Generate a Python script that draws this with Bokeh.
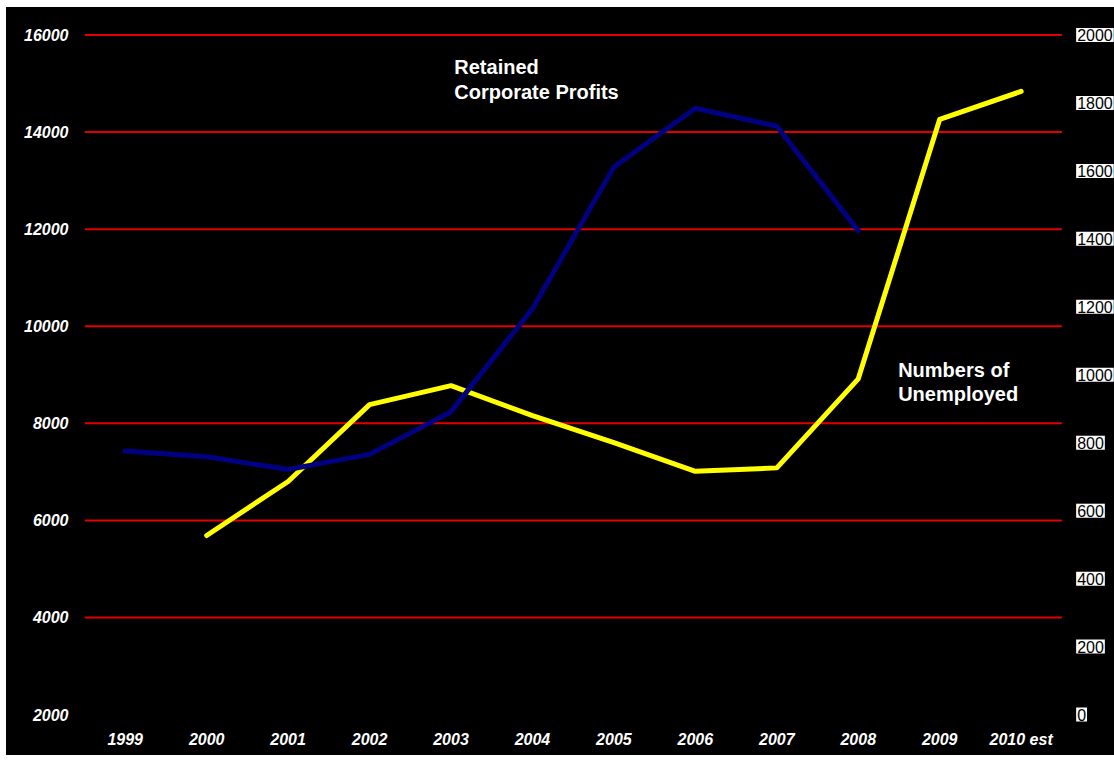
from bokeh.plotting import figure
from bokeh.models import Range1d, FixedTicker, Label
from bokeh.embed import file_html
from bokeh.resources import INLINE

# ---- data ----
years = ["1999", "2000", "2001", "2002", "2003", "2004", "2005", "2006",
         "2007", "2008", "2009", "2010 est"]
profit_years = years[0:10]
profits = [7430, 7310, 7050, 7360, 8240, 10360, 13280, 14490, 14120, 11970]
unemp_years = years[1:12]
unemployed = [527, 686, 912, 968, 880, 800, 716, 726, 988, 1752, 1834]
left_ticks = [2000, 4000, 6000, 8000, 10000, 12000, 14000, 16000]
right_ticks = [0, 200, 400, 600, 800, 1000, 1200, 1400, 1600, 1800, 2000]

FONT = "Liberation Sans"
n = len(years)
idx = {y: i for i, y in enumerate(years)}

# left scale 1774.5..16257.5 ; right scale r <-> left 2000 + 7 r
L0, L1 = 1774.5, 16257.5
p = figure(width=1108, height=748, x_range=Range1d(-0.5, n + 0.146),
           y_range=Range1d(L0, L1), output_backend="svg",
           toolbar_location=None, min_border_left=78, min_border_right=0,
           min_border_top=15, min_border_bottom=30)
p.margin = (7, 0, 0, 6)
p.styles = {"background-color": "black"}
p.extra_y_ranges = {"unemp": Range1d((L0 - 2000) / 7, (L1 - 2000) / 7)}

p.background_fill_color = "black"
p.border_fill_color = "black"
p.outline_line_color = None

# grid lines (limited to the category area)
p.xgrid.grid_line_color = None
p.ygrid.grid_line_color = None
grid_vals = left_ticks[1:]
p.segment(x0=[-0.5] * len(grid_vals), x1=[n - 0.5] * len(grid_vals),
          y0=grid_vals, y1=grid_vals, line_color="#E00000", line_width=2)

# left axis
ly = p.yaxis[0]
ly.ticker = FixedTicker(ticks=left_ticks)
# x axis (categories)
xa = p.xaxis[0]
xa.ticker = FixedTicker(ticks=list(range(n)))
xa.major_label_overrides = {i: y for i, y in enumerate(years)}
for ax in (ly, xa):
    ax.axis_line_color = None
    ax.major_tick_line_color = None
    ax.minor_tick_line_color = None
    ax.major_tick_out = 0
    ax.minor_tick_out = 0
    ax.major_label_text_color = "white"
    ax.major_label_text_font = FONT
    ax.major_label_text_font_style = "bold italic"
    ax.major_label_text_font_size = "16px"
ly.major_label_standoff = 16
xa.major_label_standoff = 5

# right-hand scale: black numbers on white boxes, placed on the secondary range
for t in right_ticks:
    p.add_layout(Label(x=n - 0.5 + 0.175, y=t, y_range_name="unemp", text=str(t),
                       text_font=FONT, text_font_size="16px", text_color="black",
                       text_baseline="middle", text_align="left", padding=1,
                       background_fill_color="white"))

# lines
p.line(x=[idx[y] for y in unemp_years], y=unemployed, y_range_name="unemp",
       line_color="#FFFF00", line_width=5, line_cap="round", line_join="round")
p.line(x=[idx[y] for y in profit_years], y=profits, line_color="#000080",
       line_width=5, line_cap="round", line_join="round")

# labels
p.add_layout(Label(x=4.04, y=15560, text="Retained\nCorporate Profits",
                   text_color="white", text_font=FONT, text_font_style="bold",
                   text_font_size="20px", text_baseline="top",
                   text_line_height=1.1))
p.add_layout(Label(x=9.49, y=9330, text="Numbers of\nUnemployed",
                   text_color="white", text_font=FONT, text_font_style="bold",
                   text_font_size="20px", text_baseline="top",
                   text_line_height=1.1))

open("out.html", "w").write(file_html(p, INLINE))
